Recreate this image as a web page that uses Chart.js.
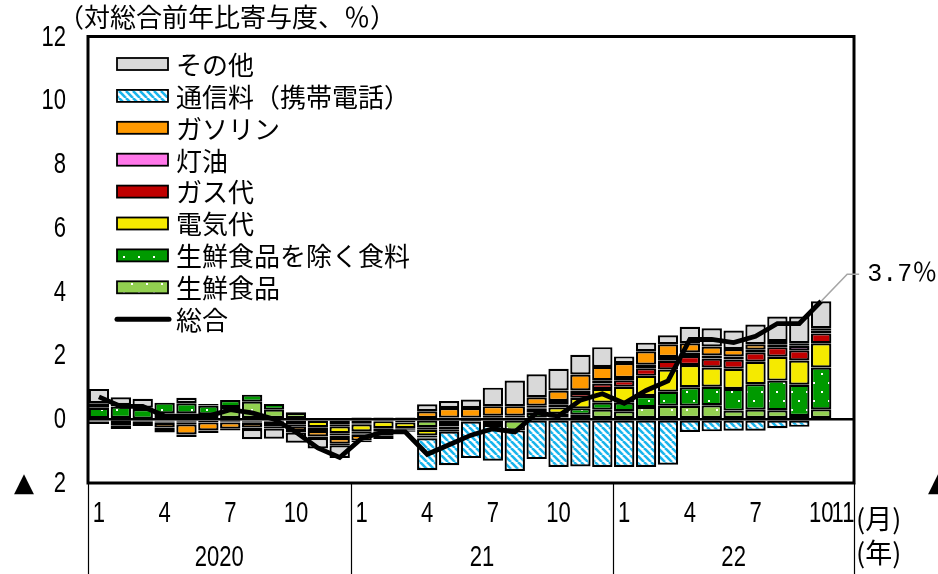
<!DOCTYPE html>
<html lang="ja">
<head>
<meta charset="utf-8">
<script src="https://cdn.jsdelivr.net/npm/chart.js@4.4.1/dist/chart.umd.min.js"></script>
<style>
  html, body { margin: 0; padding: 0; background: #fff; }
  #wrap { width: 938px; height: 574px; }
</style>
</head>
<body>
<div id="wrap"><canvas id="c" width="938" height="574"></canvas></div>
<script>
// Month slots Jan 2020 – Nov 2022 (only some are labelled)
const monthTicks = ['1','','','4','','','7','','','10','','',
                    '1','','','4','','','7','','','10','','',
                    '1','','','4','','','7','','','10','11'];
const yearLabels = ['2020', '21', '22'];
const yearFirstSlot = [0, 12, 24];

// Contributions to headline CPI y/y change (% points), Jan 2020 – Oct 2022
const freshFood   = [ 0.03,-0.03, 0.02, 0.18, 0.18, 0.15, 0.38, 0.55, 0.30, 0.20, 0.03,-0.17,
                     -0.13,-0.04,-0.05,-0.25,-0.18,-0.02,-0.15,-0.35, 0.05, 0.05, 0.14, 0.30,
                      0.25, 0.38, 0.42, 0.42, 0.44, 0.27, 0.30, 0.28, 0.10, 0.31];
const foodExFresh = [ 0.33, 0.40, 0.30, 0.34, 0.32, 0.28, 0.22, 0.22, 0.18, 0.03,-0.05,-0.05,
                     -0.03,-0.02,-0.05,-0.08,-0.05, 0.00, 0.03, 0.02, 0.15, 0.12, 0.20, 0.22,
                      0.27, 0.35, 0.44, 0.58, 0.58, 0.68, 0.80, 0.93, 0.98, 1.31];
const electricity = [-0.05,-0.12,-0.06,-0.05,-0.06, 0.05,-0.03,-0.05,-0.05,-0.12,-0.20,-0.22,
                     -0.22,-0.22,-0.18,-0.18,-0.10,-0.03, 0.03, 0.03, 0.13, 0.20, 0.33, 0.43,
                      0.50, 0.63, 0.70, 0.70, 0.60, 0.63, 0.70, 0.75, 0.76, 0.76];
const cityGas     = [-0.02,-0.04,-0.03,-0.02,-0.05,-0.05,-0.03,-0.03,-0.03,-0.05,-0.06,-0.07,
                     -0.06,-0.06,-0.05,-0.06,-0.06,-0.02,-0.03, 0.00, 0.03, 0.10, 0.15, 0.17,
                      0.20, 0.24, 0.27, 0.28, 0.28, 0.29, 0.30, 0.30, 0.32, 0.31];
const kerosene    = [ 0.02, 0.01, 0.00,-0.04,-0.05,-0.05,-0.04,-0.03,-0.04,-0.05,-0.06,-0.08,
                     -0.05,-0.04,-0.02,-0.03, 0.05, 0.05, 0.05, 0.06, 0.06, 0.10, 0.08, 0.10,
                      0.07, 0.11, 0.12, 0.11, 0.10, 0.10, 0.08, 0.09, 0.14, 0.10];
const gasoline    = [ 0.12, 0.04, 0.04,-0.15,-0.32,-0.25,-0.20,-0.15,-0.12,-0.15,-0.17,-0.18,
                     -0.18,-0.12, 0.05, 0.25, 0.30, 0.30, 0.30, 0.30, 0.27, 0.33, 0.50, 0.42,
                      0.47, 0.42, 0.40, 0.29, 0.28, 0.23, 0.17, 0.10, 0.08, 0.06];
const mobileFees  = [-0.08,-0.12,-0.12,-0.08,-0.08,-0.08,-0.05,-0.05,-0.05,-0.05,-0.05,-0.05,
                      0.05, 0.05,-0.03,-1.00,-1.05,-1.15,-1.12,-1.27,-1.25,-1.50,-1.48,-1.50,
                     -1.50,-1.50,-1.43,-0.40,-0.38,-0.36,-0.36,-0.28,-0.24, 0.00];
const others      = [ 0.45, 0.24, 0.28,-0.08, 0.17, 0.00, 0.00,-0.32,-0.32,-0.32,-0.33,-0.40,
                     -0.05,-0.12,-0.02, 0.22, 0.22, 0.27, 0.58, 0.80, 0.72, 0.68, 0.62, 0.62,
                      0.21, 0.27, 0.28, 0.52, 0.57, 0.58, 0.62, 0.77, 0.84, 0.85];
const headline    = [ 0.7, 0.4, 0.4, 0.1, 0.1, 0.1, 0.3, 0.2, 0.0,-0.4,-0.9,-1.2,
                     -0.6,-0.4,-0.4,-1.1,-0.8,-0.5,-0.3,-0.4, 0.2, 0.1, 0.6, 0.8,
                      0.5, 0.9, 1.2, 2.5, 2.5, 2.4, 2.6, 3.0, 3.0, 3.7];

const NUM = "'Liberation Sans', Arial, sans-serif";
const CJK = "'Noto Sans CJK JP', 'Noto Sans', sans-serif";
const NUM_SQUEEZE = 0.76;   // narrow numerals

// fill patterns
function hatchPattern() {
  const s = 7, c = document.createElement('canvas');
  c.width = s; c.height = s;
  const g = c.getContext('2d');
  g.fillStyle = '#fff'; g.fillRect(0, 0, s, s);
  g.strokeStyle = '#19B4EC'; g.lineWidth = 2.6;
  for (const k of [-s, 0, s]) { g.beginPath(); g.moveTo(k, 0); g.lineTo(k + s, s); g.stroke(); }
  return g.createPattern(c, 'repeat');
}
function dotPattern(base) {
  const w = 15, h = 18, c = document.createElement('canvas');
  c.width = w; c.height = h;
  const g = c.getContext('2d');
  g.fillStyle = base; g.fillRect(0, 0, w, h);
  g.fillStyle = '#fff';
  g.fillRect(3, 4, 2, 2); g.fillRect(11, 13, 2, 2);
  return g.createPattern(c, 'repeat');
}
const patHatch = hatchPattern();
const patDark = dotPattern('#009A00');
const patLight = dotPattern('#92D050');

function bar(label, data, fill) {
  return { type: 'bar', label, data, backgroundColor: fill, borderColor: '#000',
           borderWidth: 2.2, borderSkipped: false, stack: 'cpi',
           categoryPercentage: 1.0, barPercentage: 0.93 };
}

const datasets = [
  bar('生鮮食品', freshFood, patLight),
  bar('生鮮食品を除く食料', foodExFresh, patDark),
  bar('電気代', electricity, '#F5EA00'),
  bar('ガス代', cityGas, '#C00000'),
  bar('灯油', kerosene, '#FF77E9'),
  bar('ガソリン', gasoline, '#FF9900'),
  bar('通信料（携帯電話）', mobileFees, patHatch),
  bar('その他', others, '#D9D9D9'),
  { type: 'line', label: '総合', data: headline, borderColor: '#000', borderWidth: 4.8,
    pointRadius: 0, tension: 0, fill: false, order: -1, stack: 'total' }
];

// narrow numeral text
function numText(ctx, text, x, y, align) {
  ctx.save();
  ctx.translate(x, y);
  ctx.scale(NUM_SQUEEZE, 1);
  ctx.font = '29px ' + NUM;
  ctx.textAlign = align;
  ctx.textBaseline = 'middle';
  ctx.fillText(text, 0, 0);
  ctx.restore();
}
// value label in the style of the y axis: "▲ n" for negatives
function yLabel(ctx, v, rightX, y) {
  numText(ctx, String(Math.abs(v)), rightX, y + 1, 'right');
  if (v < 0) {
    ctx.save();
    ctx.font = '26px "DejaVu Sans", sans-serif';
    ctx.textAlign = 'left';
    ctx.textBaseline = 'middle';
    ctx.fillText('▲', rightX - 52, y + 1);
    ctx.restore();
  }
}

// axis labels, legend, frame, year row and annotations
const decor = {
  id: 'decor',
  afterDraw(chart) {
    const { ctx, chartArea: a, scales: { x, y } } = chart;
    ctx.save();
    ctx.fillStyle = '#000';

    // y tick labels (left, and the right-hand copy running off the canvas)
    y.ticks.forEach(t => {
      const py = y.getPixelForValue(t.value);
      yLabel(ctx, t.value, 66, py);
      yLabel(ctx, t.value, 980, py);
    });
    // month tick labels
    monthTicks.forEach((m, i) => { if (m) numText(ctx, m, x.getPixelForValue(i), 514, 'center'); });

    // legend inside the plot area
    const items = chart.data.datasets.filter(d => d.type === 'bar').slice().reverse();
    const lx = a.left + 29, ly0 = a.top + 27.5, step = 31.9;
    ctx.font = '26px ' + CJK;
    ctx.textBaseline = 'middle';
    ctx.textAlign = 'left';
    items.forEach((d, i) => {
      const cy = ly0 + i * step;
      ctx.fillStyle = d.backgroundColor;
      ctx.fillRect(lx, cy - 6, 51, 12);
      ctx.strokeStyle = '#000'; ctx.lineWidth = 1.8;
      ctx.strokeRect(lx, cy - 6, 51, 12);
      ctx.fillStyle = '#000';
      ctx.fillText(d.label, lx + 59, cy + 1);
    });
    const lineDs = chart.data.datasets.find(d => d.type === 'line');
    const cyL = ly0 + items.length * step;
    ctx.strokeStyle = '#000'; ctx.lineWidth = 5; ctx.lineCap = 'round';
    ctx.beginPath(); ctx.moveTo(lx, cyL); ctx.lineTo(lx + 52, cyL); ctx.stroke();
    ctx.lineCap = 'butt';
    ctx.fillText(lineDs.label, lx + 59, cyL + 1);

    // plot frame
    ctx.strokeStyle = '#000'; ctx.lineWidth = 3;
    ctx.strokeRect(a.left, a.top, a.right - a.left, a.bottom - a.top);

    // year separators under the axis
    const n = monthTicks.length;
    const half = (x.getPixelForValue(1) - x.getPixelForValue(0)) / 2;
    const edge = i => (i < n ? x.getPixelForValue(i) - half : x.getPixelForValue(n - 1) + half);
    const bounds = [...yearFirstSlot, n];
    ctx.lineWidth = 1.2;
    bounds.forEach(i => {
      const px = Math.round(edge(i)) + 0.5;
      ctx.beginPath(); ctx.moveTo(px, a.bottom); ctx.lineTo(px, chart.height); ctx.stroke();
    });
    yearLabels.forEach((t, k) => {
      const cx = (edge(bounds[k]) + edge(bounds[k + 1])) / 2;
      numText(ctx, t, cx, 558, 'center');
    });

    // unit markers
    ctx.fillStyle = '#000';
    ctx.font = '27px ' + CJK;
    ctx.textAlign = 'left';
    ctx.textBaseline = 'middle';
    ctx.fillText('(月)', a.right + 2, 519);
    ctx.fillText('(年)', a.right + 2, 553);

    // axis title
    ctx.font = '26px ' + CJK;
    ctx.fillText('（対総合前年比寄与度、％）', 58, 17);

    // latest headline value with leader line
    const last = headline.length - 1;
    const px = x.getPixelForValue(last), py = y.getPixelForValue(headline[last]);
    ctx.strokeStyle = '#A6A6A6'; ctx.lineWidth = 1.6;
    ctx.beginPath(); ctx.moveTo(px, py); ctx.lineTo(px + 26, py - 27); ctx.lineTo(px + 38, py - 27); ctx.stroke();
    ctx.fillStyle = '#000';
    ctx.font = "25px 'Liberation Mono', 'DejaVu Sans Mono', " + CJK;
    ctx.fillText(headline[last].toFixed(1) + '％', px + 46, py - 27);

    ctx.restore();
  }
};

new Chart(document.getElementById('c'), {
  data: { labels: monthTicks, datasets },
  options: {
    responsive: false,
    animation: false,
    devicePixelRatio: 1,
    layout: { padding: { left: 0, right: 84, top: 36.5, bottom: 0 } },
    plugins: { legend: { display: false }, tooltip: { enabled: false } },
    scales: {
      x: {
        stacked: true,
        offset: true,
        afterFit: s => { s.height = 91; },
        grid: { display: false },
        border: { display: false },
        ticks: { display: false, autoSkip: false, maxRotation: 0 }
      },
      y: {
        stacked: true,
        min: -2, max: 12,
        afterFit: s => { s.width = 88; },
        border: { display: false },
        grid: { drawTicks: false, lineWidth: 2.5,
                color: c => (c.tick && c.tick.value === 0 ? '#000' : 'rgba(0,0,0,0)') },
        ticks: { display: false, stepSize: 2 }
      }
    }
  },
  plugins: [decor]
});
</script>
</body>
</html>
